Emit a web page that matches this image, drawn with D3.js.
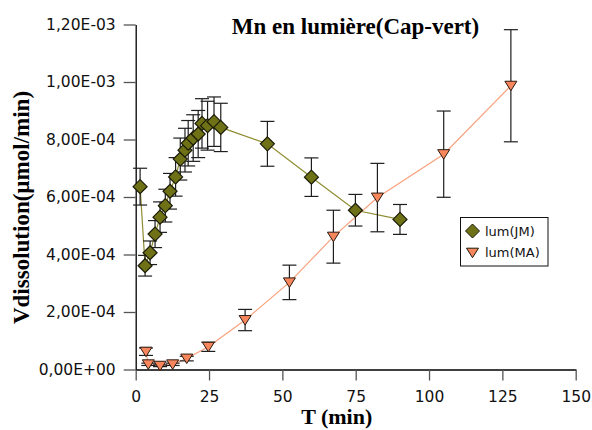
<!DOCTYPE html>
<html>
<head>
<meta charset="utf-8">
<script src="https://cdn.jsdelivr.net/npm/d3@7"></script>
<style>
  body { margin: 0; background: #fff; }
  svg { display: block; }
</style>
</head>
<body>
<script>
// --------DATA--------------
var jmTime = [1.5, 3.2, 4.9, 6.6, 8.3, 10.1, 11.7, 13.6, 15.2, 16.8, 17.9, 19.6, 21.3, 22.6, 24.5, 26.7, 29.0, 44.9, 59.9, 74.9, 90.1];
var jmRate = [6.36e-4, 3.61e-4, 4.06e-4, 4.71e-4, 5.30e-4, 5.70e-4, 6.20e-4, 6.70e-4, 7.32e-4, 7.63e-4, 7.87e-4, 8.05e-4, 8.19e-4, 8.56e-4, 8.48e-4, 8.62e-4, 8.42e-4, 7.85e-4, 6.69e-4, 5.54e-4, 5.22e-4];
var jmErr = [6.4e-5, 3.6e-5, 4.1e-5, 4.7e-5, 5.3e-5, 5.7e-5, 6.2e-5, 6.7e-5, 7.3e-5, 7.6e-5, 7.9e-5, 8.1e-5, 8.2e-5, 8.6e-5, 8.5e-5, 8.6e-5, 8.4e-5, 7.8e-5, 6.7e-5, 5.5e-5, 5.2e-5];

var maTime = [3.5, 4.3, 8.3, 12.6, 17.4, 24.75, 37.3, 52.4, 67.4, 82.4, 105.0, 127.9];
var maRate = [6.2e-5, 1.8e-5, 1.3e-5, 1.8e-5, 3.8e-5, 7.9e-5, 1.72e-4, 3.03e-4, 4.62e-4, 5.98e-4, 7.49e-4, 9.87e-4];
var maErr = [1.3e-5, 4e-6, 3e-6, 4e-6, 8e-6, 1.6e-5, 3.7e-5, 6.0e-5, 9.2e-5, 1.19e-4, 1.5e-4, 1.95e-4];

var seriesNames = ["lum(JM)", "lum(MA)"];
var xTicks = [0, 25, 50, 75, 100, 125, 150];
var yTicks = [0, 2e-4, 4e-4, 6e-4, 8e-4, 1e-3, 1.2e-3];
var yTickLabels = ["0,00E+00", "2,00E-04", "4,00E-04", "6,00E-04", "8,00E-04", "1,00E-03", "1,20E-03"];

var jmData = jmTime.map(function(t, i) { return {t: t, v: jmRate[i], e: jmErr[i]}; });
var maData = maTime.map(function(t, i) { return {t: t, v: maRate[i], e: maErr[i]}; });

var jmFill = "#6e7116", jmLine = "#8e8c30";
var maFill = "#f8865c", maLine = "#f9a27e";

var svg = d3.select("body").append("svg")
  .attr("width", 592)
  .attr("height", 430);

svg.append("rect").attr("width", 592).attr("height", 430).attr("fill", "#fff");

var x = d3.scaleLinear().domain([0, 150]).range([135.7, 575.7]);
var y = d3.scaleLinear().domain([0, 1.2e-3]).range([369.5, 24.5]);

var diamond = "M0,-7L7,0L0,7L-7,0Z";
var triangle = "M-6,-4.5L6,-4.5L0,5Z";

// --------AXES--------------
var xAxis = svg.append("g")
  .attr("transform", "translate(0," + y(0) + ")")
  .call(d3.axisBottom(x).tickValues(xTicks).tickSize(11).tickSizeOuter(0).tickPadding(10));

var yAxis = svg.append("g")
  .attr("transform", "translate(" + x(0) + ",0)")
  .call(d3.axisLeft(y).tickValues(yTicks).tickSize(12).tickSizeOuter(0).tickPadding(8)
    .tickFormat(function(d, i) { return yTickLabels[i]; }));

[xAxis, yAxis].forEach(function(a) {
  a.select(".domain").attr("stroke", "#000").attr("stroke-width", 1.3);
  a.selectAll(".tick line").attr("stroke", "#555").attr("stroke-width", 1.3);
  a.selectAll(".tick text")
    .attr("fill", "#111")
    .style("font-family", "DejaVu Sans")
    .style("font-size", "15.5px");
});

// --------LINES--------------
var line = d3.line()
  .x(function(d) { return x(d.t); })
  .y(function(d) { return y(d.v); });

svg.append("path").datum(maData)
  .attr("d", line).attr("fill", "none").attr("stroke", maLine).attr("stroke-width", 1.2);

svg.append("path").datum(jmData)
  .attr("d", line).attr("fill", "none").attr("stroke", jmLine).attr("stroke-width", 1.2);

// --------ERROR BARS--------------
function errorBars(data) {
  var g = svg.append("g").attr("stroke", "#1e1e1e").attr("stroke-width", 1.2);
  data.forEach(function(d) {
    var cx = x(d.t), top = y(d.v + d.e), bot = y(d.v - d.e);
    g.append("line").attr("x1", cx).attr("x2", cx).attr("y1", top).attr("y2", bot);
    g.append("line").attr("x1", cx - 7).attr("x2", cx + 7).attr("y1", top).attr("y2", top);
    g.append("line").attr("x1", cx - 7).attr("x2", cx + 7).attr("y1", bot).attr("y2", bot);
  });
}
errorBars(jmData);
errorBars(maData);

// --------MARKERS--------------
svg.append("g").selectAll("path")
  .data(maData)
  .enter()
  .append("path")
  .attr("d", triangle)
  .attr("transform", function(d) { return "translate(" + x(d.t) + "," + y(d.v) + ")"; })
  .attr("fill", maFill)
  .attr("stroke", "#2a1a10")
  .attr("stroke-width", 1);

svg.append("g").selectAll("path")
  .data(jmData)
  .enter()
  .append("path")
  .attr("d", diamond)
  .attr("transform", function(d) { return "translate(" + x(d.t) + "," + y(d.v) + ")"; })
  .attr("fill", jmFill)
  .attr("stroke", "#1a1a08")
  .attr("stroke-width", 1.2);

// --------TITLES--------------
svg.append("text")
  .attr("x", 355.5).attr("y", 34)
  .attr("text-anchor", "middle")
  .style("font-family", "Liberation Serif")
  .style("font-weight", "bold")
  .style("font-size", "23px")
  .text("Mn en lumière(Cap-vert)");

svg.append("text")
  .attr("x", 336.7).attr("y", 424)
  .attr("text-anchor", "middle")
  .style("font-family", "Liberation Serif")
  .style("font-weight", "bold")
  .style("font-size", "22px")
  .text("T (min)");

svg.append("text")
  .attr("transform", "translate(29,207.5) rotate(-90)")
  .attr("text-anchor", "middle")
  .style("font-family", "Liberation Serif")
  .style("font-weight", "bold")
  .style("font-size", "23px")
  .text("Vdissolution(µmol/min)");

// --------LEGEND--------------
var legend = svg.append("g").attr("transform", "translate(460.5,217.5)");
legend.append("rect")
  .attr("width", 87.5).attr("height", 48.5)
  .attr("fill", "#fff").attr("stroke", "#111").attr("stroke-width", 1);

var entries = legend.selectAll("g.entry")
  .data(seriesNames)
  .enter()
  .append("g")
  .attr("class", "entry")
  .attr("transform", function(d, i) { return "translate(0," + (13.5 + i * 21.7) + ")"; });

entries.append("path")
  .attr("d", function(d, i) { return i == 0 ? diamond : triangle; })
  .attr("transform", "translate(12,0)")
  .attr("fill", function(d, i) { return i == 0 ? jmFill : maFill; })
  .attr("stroke", "#1a1a08")
  .attr("stroke-width", 1);

entries.append("text")
  .attr("x", 24.5)
  .attr("dy", "0.35em")
  .style("font-family", "DejaVu Sans")
  .style("font-size", "13px")
  .attr("fill", "#111")
  .text(function(d) { return d; });
</script>
</body>
</html>
